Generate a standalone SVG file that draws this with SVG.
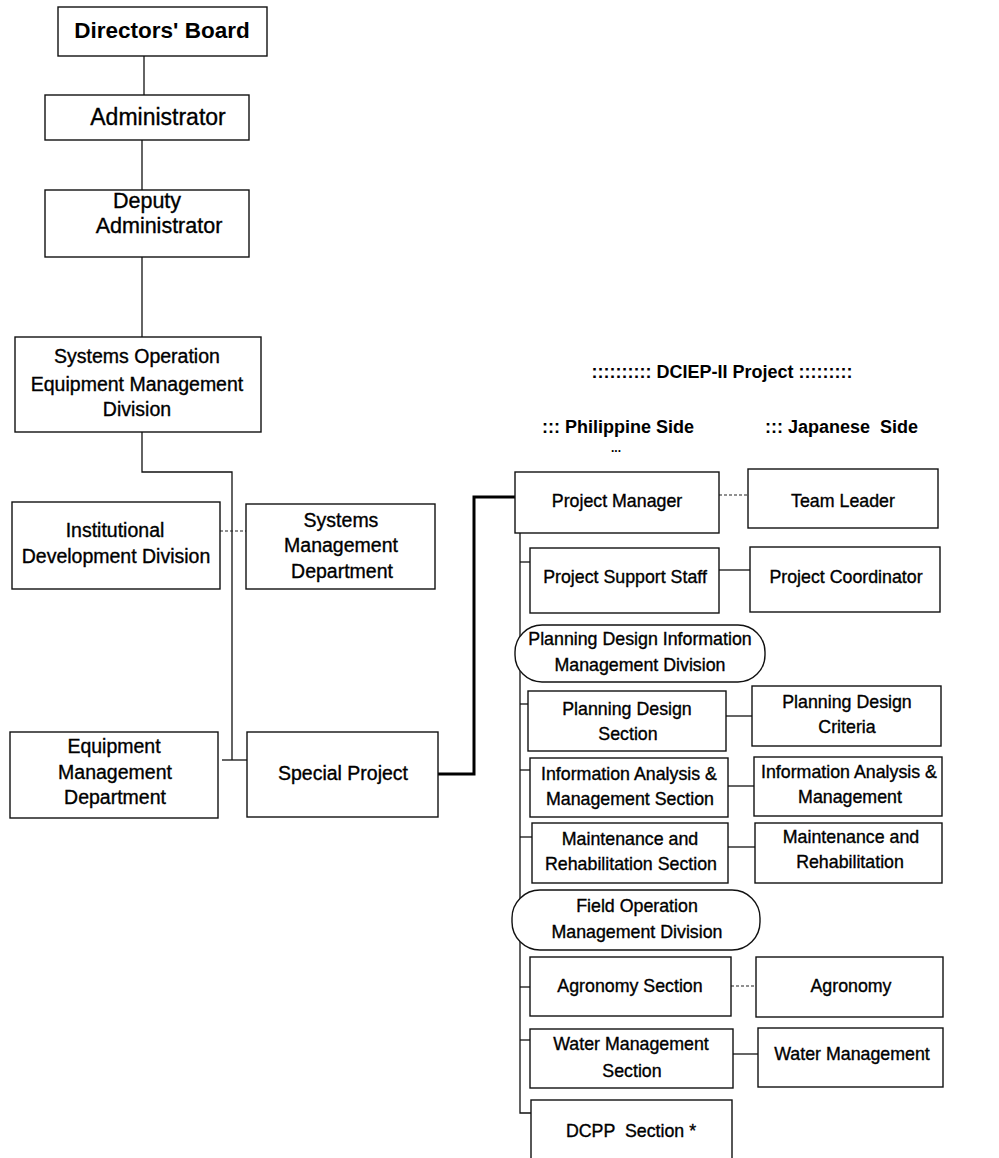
<svg xmlns="http://www.w3.org/2000/svg" width="999" height="1158" viewBox="0 0 999 1158">
<style>
.b{fill:#fff;stroke:#111;stroke-width:1.4}
.t{font-family:"Liberation Sans",Arial,sans-serif;fill:#000;text-anchor:middle;stroke:#000;stroke-width:0.35}
.L{font-size:23px}
.D{font-size:21.5px}
.M{font-size:19.5px}
.S{font-size:17.8px}
.h{font-family:"Liberation Sans",Arial,sans-serif;font-weight:bold;font-size:18px;fill:#000}
.c{fill:none;stroke:#111;stroke-width:1.3}
.d{fill:none;stroke:#222;stroke-width:1.1;stroke-dasharray:3 2}
.k{fill:none;stroke:#000;stroke-width:3}
</style>
<rect width="999" height="1158" fill="#fff"/>
<g id="connectors">
<path class="c" d="M144 56V95"/>
<path class="c" d="M142 140V190"/>
<path class="c" d="M142 257V337"/>
<path class="c" d="M142 432V472H232V760"/>
<path class="d" d="M220 531H246"/>
<path class="c" d="M222 760H247"/>
<path class="k" d="M438 774H474V497H515"/>
<path class="d" d="M719 495H748"/>
<path class="c" d="M520 533V1113H531"/>
<path class="c" d="M520 562H530"/>
<path class="c" d="M719 570H750"/>
<path class="c" d="M520 704H528"/>
<path class="c" d="M726 716H752"/>
<path class="c" d="M520 770H530"/>
<path class="c" d="M728 786H754"/>
<path class="c" d="M520 837H532"/>
<path class="c" d="M728 847H755"/>
<path class="c" d="M520 987H530"/>
<path class="d" d="M731 986H756"/>
<path class="c" d="M520 1040H530"/>
<path class="c" d="M733 1054H758"/>
</g>
<g id="directors-board"><rect class="b" x="58" y="7" width="209" height="49"/><text class="h" x="162" y="38" text-anchor="middle" style="font-size:22.5px">Directors' Board</text></g>
<g id="administrator"><rect class="b" x="45" y="95" width="204" height="45"/><text class="t L" x="158" y="125">Administrator</text></g>
<g id="deputy-administrator"><rect class="b" x="45" y="190" width="204" height="67"/><text class="t D" x="147" y="208">Deputy</text><text class="t D" x="159" y="233">Administrator</text></g>
<g id="soemd"><rect class="b" x="15" y="337" width="246" height="95"/><text class="t M" x="137" y="363">Systems Operation</text><text class="t M" x="137" y="391">Equipment Management</text><text class="t M" x="137" y="416">Division</text></g>
<g id="idd"><rect class="b" x="12" y="502" width="208" height="87"/><text class="t M" x="115" y="537">Institutional</text><text class="t M" x="116" y="563">Development Division</text></g>
<g id="smd"><rect class="b" x="246" y="504" width="189" height="85"/><text class="t M" x="341" y="527">Systems</text><text class="t M" x="341" y="552">Management</text><text class="t M" x="342" y="578">Department</text></g>
<g id="emd"><rect class="b" x="10" y="732" width="208" height="86"/><text class="t M" x="114" y="753">Equipment</text><text class="t M" x="115" y="779">Management</text><text class="t M" x="115" y="804">Department</text></g>
<g id="special-project"><rect class="b" x="247" y="732" width="191" height="85"/><text class="t M" x="343" y="780">Special Project</text></g>
<g id="headers">
<text class="h" x="722" y="378" text-anchor="middle">:::::::::: DCIEP-II Project :::::::::</text>
<text class="h" x="542" y="433">::: Philippine Side</text>
<text class="h" x="616" y="452" text-anchor="middle" style="font-size:12px">...</text>
<text class="h" x="765" y="433" xml:space="preserve">::: Japanese  Side</text>
</g>
<g id="project-manager"><rect class="b" x="515" y="472" width="204" height="61"/><text class="t S" x="617" y="507">Project Manager</text></g>
<g id="team-leader"><rect class="b" x="748" y="469" width="190" height="59"/><text class="t S" x="843" y="507">Team Leader</text></g>
<g id="project-support-staff"><rect class="b" x="530" y="548" width="189" height="65"/><text class="t S" x="625" y="583">Project Support Staff</text></g>
<g id="project-coordinator"><rect class="b" x="750" y="547" width="190" height="65"/><text class="t S" x="846" y="583">Project Coordinator</text></g>
<g id="pdimd"><rect class="b" x="515" y="625" width="250" height="57" rx="27"/><text class="t S" x="640" y="645">Planning Design Information</text><text class="t S" x="640" y="671">Management Division</text></g>
<g id="pds"><rect class="b" x="528" y="691" width="198" height="60"/><text class="t S" x="627" y="715">Planning Design</text><text class="t S" x="628" y="740">Section</text></g>
<g id="pdc"><rect class="b" x="752" y="686" width="189" height="60"/><text class="t S" x="847" y="708">Planning Design</text><text class="t S" x="847" y="733">Criteria</text></g>
<g id="iams"><rect class="b" x="530" y="758" width="198" height="59"/><text class="t S" x="629" y="780">Information Analysis &amp;</text><text class="t S" x="630" y="805">Management Section</text></g>
<g id="iam"><rect class="b" x="754" y="757" width="188" height="59"/><text class="t S" x="849" y="778">Information Analysis &amp;</text><text class="t S" x="850" y="803">Management</text></g>
<g id="mrs"><rect class="b" x="532" y="823" width="196" height="60"/><text class="t S" x="630" y="845">Maintenance and</text><text class="t S" x="631" y="870">Rehabilitation Section</text></g>
<g id="mr"><rect class="b" x="755" y="823" width="187" height="60"/><text class="t S" x="851" y="843">Maintenance and</text><text class="t S" x="850" y="868">Rehabilitation</text></g>
<g id="fomd"><rect class="b" x="512" y="890" width="248" height="60" rx="28"/><text class="t S" x="637" y="912">Field Operation</text><text class="t S" x="637" y="938">Management Division</text></g>
<g id="agronomy-section"><rect class="b" x="530" y="957" width="201" height="59"/><text class="t S" x="630" y="992">Agronomy Section</text></g>
<g id="agronomy"><rect class="b" x="756" y="957" width="187" height="60"/><text class="t S" x="851" y="992">Agronomy</text></g>
<g id="wms"><rect class="b" x="530" y="1029" width="203" height="59"/><text class="t S" x="631" y="1050">Water Management</text><text class="t S" x="632" y="1077">Section</text></g>
<g id="wm"><rect class="b" x="758" y="1028" width="185" height="59"/><text class="t S" x="852" y="1060">Water Management</text></g>
<g id="dcpp"><rect class="b" x="531" y="1100" width="201" height="70"/><text class="t S" x="631" y="1137" xml:space="preserve">DCPP  Section *</text></g>
</svg>
